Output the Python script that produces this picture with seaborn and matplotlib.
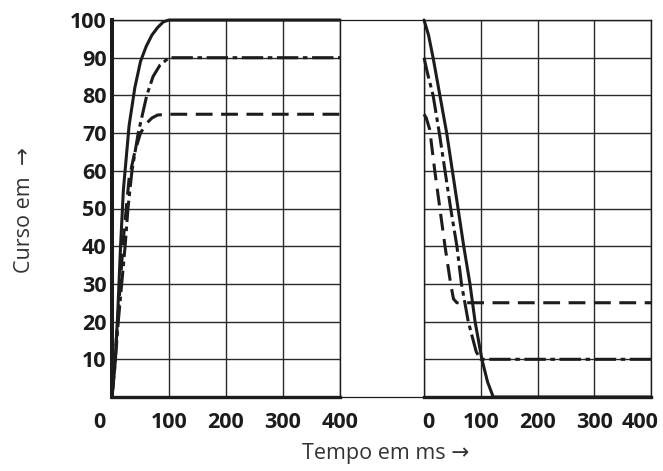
import matplotlib.pyplot as plt
import matplotlib.transforms as mtransforms
import pandas as pd
import seaborn as sns

# --- opening (left panel): curso em % vs tempo em ms ---
open_full_t = [0, 5, 10, 15, 20, 30, 40, 50, 60, 70, 80, 90, 100, 400]
open_full_y = [0, 8, 22, 40, 55, 72, 82, 89, 93, 96, 98, 99.5, 100, 100]
open_90_t = [0, 6, 11, 17, 23, 28, 35, 46, 61, 72, 84, 100, 400]
open_90_y = [0, 10, 20, 30, 40, 50, 60, 70, 80, 85, 88, 90, 90]
open_75_t = [0, 10, 20, 30, 40, 50, 60, 70, 80, 100, 400]
open_75_y = [0, 20, 42, 58, 65, 70, 72.5, 74, 74.8, 75, 75]

# --- closing (right panel) ---
close_full_t = [0, 8, 16, 28, 40, 50, 60, 70, 81, 90, 102, 112, 122, 400]
close_full_y = [100, 96, 90, 80, 70, 60, 50, 40, 30, 20, 10, 4, 0, 0]
close_90_t = [0, 6, 16, 27, 37, 47, 58, 66, 78, 92, 100, 400]
close_90_y = [90, 86, 80, 70, 60, 50, 40, 30, 20, 12, 10, 10]
close_75_t = [0, 4, 10, 19, 28, 37, 47, 52, 58, 400]
close_75_y = [75, 74, 71, 60, 50, 40, 30, 26, 25, 25]

x_ticks = [0, 100, 200, 300, 400]
y_ticks = [10, 20, 30, 40, 50, 60, 70, 80, 90, 100]

DASHES = {"100": "", "90": (7, 1.5, 1.5, 1.5), "75": (5.5, 2.8)}
INK = "#1c1c1c"
LABEL_FONTS = ["Open Sans", "DejaVu Sans"]


def to_frame(curves):
    parts = [pd.DataFrame({"t": t, "curso": y, "curva": name})
             for name, (t, y) in curves.items()]
    return pd.concat(parts, ignore_index=True)


def nudge(label, dx_px):
    shift = mtransforms.ScaledTranslation(dx_px / 100, 0, fig.dpi_scale_trans)
    label.set_transform(label.get_transform() + shift)


sns.set_theme(style="white")
plt.rcParams["font.family"] = LABEL_FONTS

fig = plt.figure(figsize=(6.63, 4.71), dpi=100)
bottom, height = 74 / 471, 377 / 471
ax_l = fig.add_axes([112 / 663, bottom, 228 / 663, height])
ax_gap = fig.add_axes([340 / 663, bottom, 84 / 663, height])
ax_r = fig.add_axes([424 / 663, bottom, 227 / 663, height])

panels = [
    (ax_l, {"100": (open_full_t, open_full_y), "90": (open_90_t, open_90_y),
            "75": (open_75_t, open_75_y)}),
    (ax_r, {"100": (close_full_t, close_full_y), "90": (close_90_t, close_90_y),
            "75": (close_75_t, close_75_y)}),
]

for ax, curves in panels:
    sns.lineplot(data=to_frame(curves), x="t", y="curso", style="curva",
                 dashes=DASHES, color=INK, linewidth=2.2, estimator=None,
                 sort=False, legend=False, ax=ax, clip_on=False)
    ax.set_xlim(0, 400)
    ax.set_ylim(0, 100)
    ax.set_xticks(x_ticks)
    ax.set_yticks(y_ticks)
    ax.set_xlabel("")
    ax.set_ylabel("")
    ax.set_axisbelow(True)
    ax.grid(True, color="#2a2a2a", linewidth=1.0)
    ax.tick_params(length=0, labelsize=15.5, colors=INK)
    ax.tick_params(axis="x", pad=11)
    ax.tick_params(axis="y", pad=4)
    for lab in ax.get_xticklabels() + ax.get_yticklabels():
        lab.set_fontweight("bold")
    for side in ["top", "right", "left"]:
        ax.spines[side].set_color(INK)
        ax.spines[side].set_linewidth(1.0)
    ax.spines["bottom"].set_color(INK)
    ax.spines["bottom"].set_linewidth(2.4)

ax_l.spines["left"].set_linewidth(2.9)
ax_r.tick_params(axis="y", labelleft=False)

# the printed figure pulls the outer labels inward
nudge(ax_l.get_xticklabels()[0], -13)
nudge(ax_r.get_xticklabels()[0], 4)
nudge(ax_r.get_xticklabels()[-1], -11)

# blank strip between the panels, only framed top and bottom
ax_gap.set_xticks([])
ax_gap.set_yticks([])
ax_gap.set_facecolor("none")
for side in ["left", "right"]:
    ax_gap.spines[side].set_visible(False)
for side in ["top", "bottom"]:
    ax_gap.spines[side].set_color(INK)
    ax_gap.spines[side].set_linewidth(0.9)

fig.text(25 / 663, 1 - 210 / 471, "Curso em  \u2192", rotation=90,
         ha="center", va="center", fontsize=15.5, color="#333333",
         family=LABEL_FONTS)
fig.text(386 / 663, 1 - 453 / 471, "Tempo em ms \u2192",
         ha="center", va="center", fontsize=15.5, color="#333333",
         family=LABEL_FONTS)

fig.savefig("out.png", dpi=100)
